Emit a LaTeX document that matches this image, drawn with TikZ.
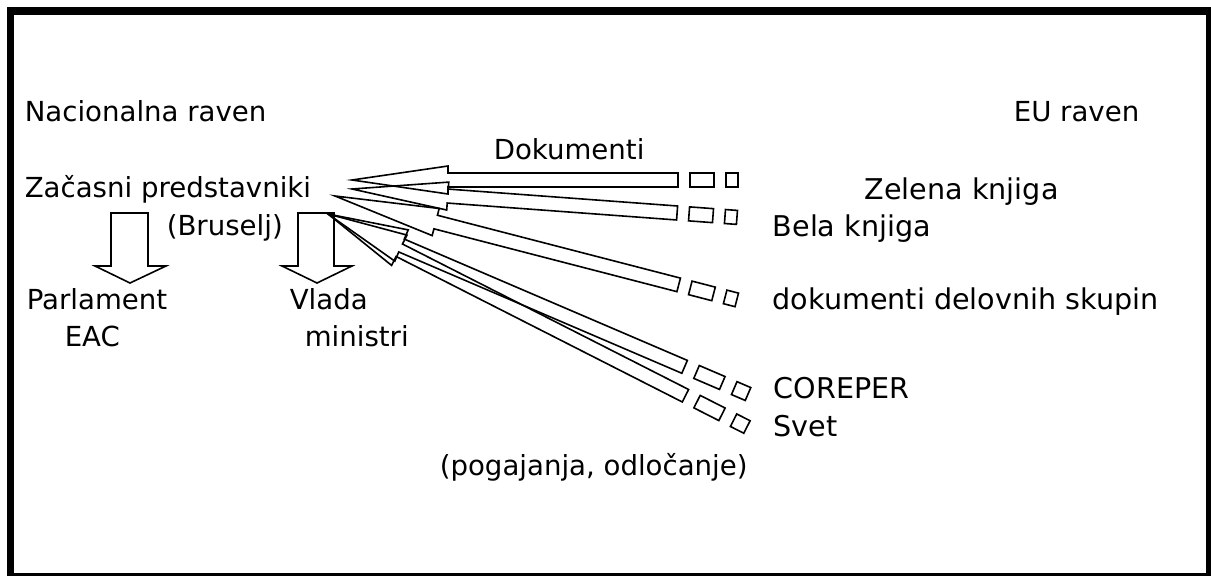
\documentclass[tikz,border=0pt]{standalone}
\usepackage{fontspec}
\setmainfont{DejaVu Sans}
% #1 tip x, #2 tip y, #3 rotation, #4 shaft end, #5 head length, #6 head half width, #7 gap, #8 rect length, #9 square length
\newcommand{\barrow}[9]{%
  \begin{scope}[shift={(#1,#2)}, rotate=#3]
    \draw (0,0) -- (#5,-#6) -- (#5,-7) -- (#4,-7) -- (#4,7) -- (#5,7) -- (#5,#6) -- cycle;
    \draw ({#4+#7},-7) rectangle ({#4+#7+#8},7);
    \draw ({#4+2*#7+#8},-7) rectangle ({#4+2*#7+#8+#9},7);
  \end{scope}}
\begin{document}
\begin{tikzpicture}[x=1pt,y=-1pt,line width=1.6pt,line join=miter,
  lbl/.style={anchor=base west,inner sep=0pt,font=\fontsize{27.6}{32}\selectfont},
  rlbl/.style={lbl,font=\fontsize{28.6}{33}\selectfont}]
\useasboundingbox (0,0) rectangle (1211,576);
% frame
\fill (7,7) rectangle (14,576);
\fill (7,7) rectangle (1211,15);
\fill (1206,7) rectangle (1211,576);
\fill (7,573) rectangle (1211,576);
% labels
\node[lbl] (nac) at (24,121) {Nacionalna raven};
\node[lbl] (eu) at (1013,121) {EU raven};
\node[lbl] (dok) at (493,159) {Dokumenti};
\node[lbl] (zac) at (24,197) {Začasni predstavniki};
\node[rlbl] (zel) at (864,199) {Zelena knjiga};
\node[lbl] (bru) at (166,235) {(Bruselj)};
\node[rlbl] (bela) at (772,236) {Bela knjiga};
\node[lbl] (par) at (26,309) {Parlament};
\node[lbl] (eac) at (64,346) {EAC};
\node[lbl] (vla) at (289,309) {Vlada};
\node[lbl] (min) at (304,346) {ministri};
\node[rlbl] (dds) at (772,309) {dokumenti delovnih skupin};
\node[rlbl] (cor) at (773,398) {COREPER};
\node[rlbl] (svet) at (773,436) {Svet};
\node[lbl] (pog) at (439,475) {(pogajanja, odločanje)};
% down arrows
\draw (111,213) -- (148,213) -- (148,266) -- (166,266) -- (130,283) -- (95,266) -- (111,266) -- cycle;
\draw (298,213) -- (334,213) -- (334,266) -- (352,266) -- (317,283) -- (282,266) -- (298,266) -- cycle;
% block arrows
\barrow{352}{180}{0}{326}{96}{14}{12}{24}{12}
\barrow{352}{189}{-4.22}{326}{96}{14}{12}{24}{12}
\barrow{335}{196}{-14.5}{355}{104}{14}{12}{24}{12}
\barrow{328}{214}{-23.2}{388}{80}{17}{13}{28}{15}
\barrow{328}{214}{-26.95}{401}{80}{17}{13}{28}{15}
\end{tikzpicture}
\end{document}
